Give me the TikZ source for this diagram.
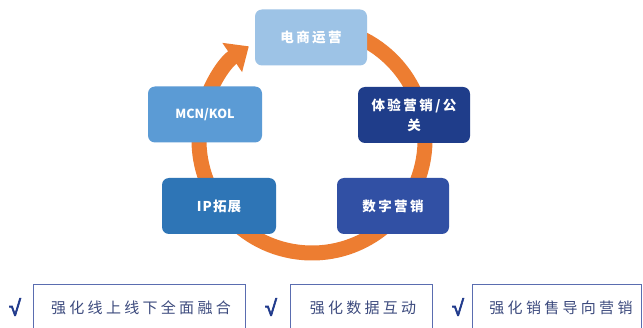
\documentclass[tikz,border=0pt]{standalone}
\usepackage{fontspec}
\setmainfont{Noto Sans CJK SC}
\newfontfamily\chkfont[FakeBold=3]{Liberation Sans}
\usetikzlibrary{arrows.meta}
\definecolor{ringor}{HTML}{ED7D31}
\definecolor{cTop}{HTML}{9DC3E6}
\definecolor{cMcn}{HTML}{5B9BD5}
\definecolor{cExp}{HTML}{1F3D8A}
\definecolor{cIp}{HTML}{2E75B6}
\definecolor{cDig}{HTML}{3150A4}
\definecolor{bline}{HTML}{5A6DB0}
\definecolor{btext}{HTML}{3D4B7E}
\definecolor{chk}{HTML}{203A8C}
\tikzset{
  cyclebox/.style={rounded corners=7pt, minimum width=112pt, minimum height=56pt,
    text=white, inner sep=2pt, align=center,
    font=\fontsize{13.5}{20}\selectfont\bfseries\addfontfeatures{LetterSpace=18}},
  ringline/.style={draw=ringor, line width=15pt, -{Triangle[width=34pt,length=20pt]}},
  goaltext/.style={text=btext, font=\fontsize{15}{18}\selectfont\addfontfeatures{LetterSpace=22}},
  goalbox/.style={draw=bline, line width=0.9pt},
  checkmark/.style={text=chk, font=\chkfont\fontsize{22}{22}\selectfont}
}
\begin{document}
\begin{tikzpicture}[x=1pt,y=1pt]
\useasboundingbox (0,0) rectangle (643,327);
\clip (0,0) rectangle (643,327);
\fill[white] (0,0) rectangle (643,327);
\coordinate (c) at (312,187);
\draw[ringline] (c) ++(80:113) arc[start angle=80, end angle=-236, radius=113];
\node[cyclebox, fill=cTop] (top) at (311,289.5) {电商运营};
\node[cyclebox, fill=cMcn, minimum width=114pt, font=\fontsize{12.5}{14}\selectfont\bfseries] (mcn) at (205,212.5) {MCN/KOL};
\node[cyclebox, fill=cExp] (exp) at (414,212) {体验营销/公\\关};
\node[cyclebox, fill=cIp, minimum width=114pt, font=\fontsize{13.5}{20}\selectfont\bfseries\addfontfeatures{LetterSpace=8}] (ip) at (219,121) {IP拓展};
\node[cyclebox, fill=cDig] (dig) at (393,121) {数字营销};
\draw[goalbox] (33,-10) -- (33,43) -- (245,43) -- (245,-10);
\draw[goalbox] (290,-10) -- (290,43) -- (432,43) -- (432,-10);
\draw[goalbox] (472,-10) -- (472,43) -- (641,43) -- (641,-10);
\node[checkmark] (k1) at (15,20) {√};
\node[checkmark] (k2) at (271,20) {√};
\node[checkmark] (k3) at (458,20) {√};
\node[goaltext] (g1) at (141,19) {强化线上线下全面融合};
\node[goaltext] (g2) at (363,19) {强化数据互动};
\node[goaltext] (g3) at (561,19) {强化销售导向营销};
\end{tikzpicture}
\end{document}
